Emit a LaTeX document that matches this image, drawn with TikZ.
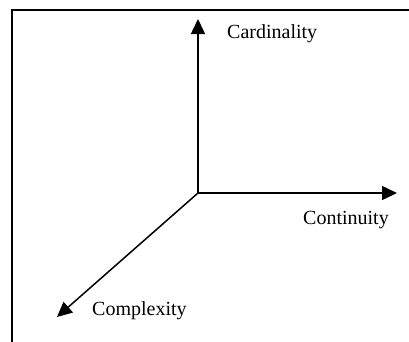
\documentclass[tikz,border=0pt]{standalone}
\usepackage{fontspec}
\setmainfont{Liberation Serif}
\usetikzlibrary{arrows.meta}
\begin{document}
\begin{tikzpicture}[x=1pt,y=1pt,
  frameline/.style={line width=1.8pt},
  axis/.style={line width=1.5pt,-{Triangle[length=15pt,width=14pt]}},
  lbl/.style={anchor=base west,inner sep=0pt,font=\fontsize{20}{24}\selectfont}]
\useasboundingbox (0,0) rectangle (409,341);
\draw[frameline] (12,-2) -- (12,331) -- (411,331);
\coordinate (O) at (198,148);
\coordinate (Up) at (198,322);
\coordinate (Right) at (397,148);
\coordinate (Diag) at (57,24);
\draw[axis] (O) -- (Up);
\draw[axis] (O) -- (Right);
\draw[axis] (O) -- (Diag);
\node[lbl] (card) at (227,302) {Cardinality};
\node[lbl] (cont) at (303,117) {Continuity};
\node[lbl] (comp) at (92,26) {Complexity};
\end{tikzpicture}
\end{document}
